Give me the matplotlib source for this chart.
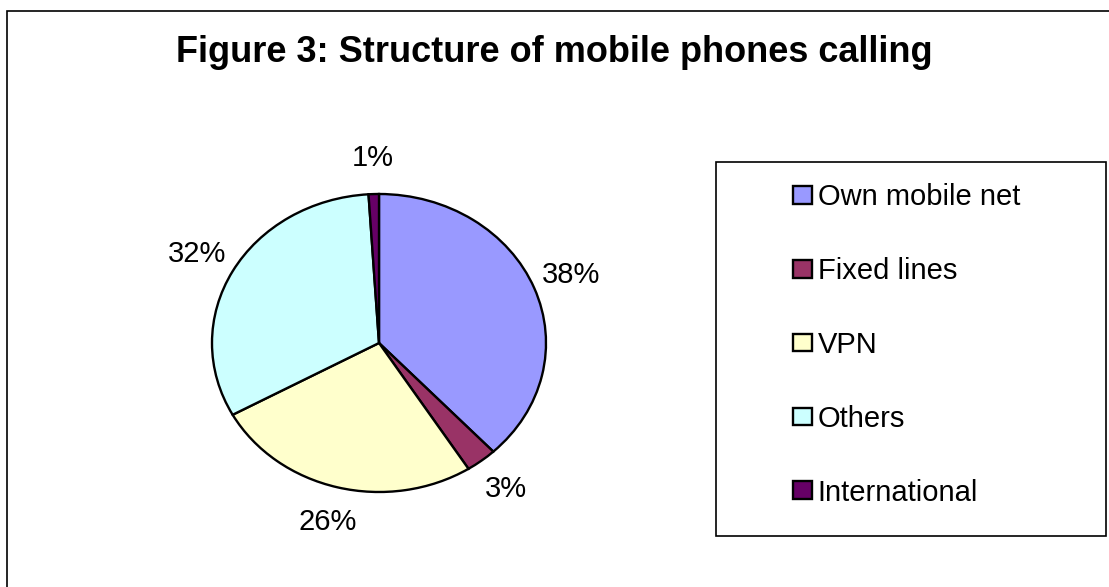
import matplotlib
matplotlib.use("Agg")
import matplotlib.pyplot as plt
from matplotlib.patches import Rectangle

plt.rcParams['font.family'] = ['Liberation Sans', 'DejaVu Sans']

labels = ['Own mobile net', 'Fixed lines', 'VPN', 'Others', 'International']
shares = [38, 3, 26, 32, 1]
colors = ['#9999FF', '#993366', '#FFFFCC', '#CCFFFF', '#660066']
title = 'Figure 3: Structure of mobile phones calling'

W, H = 1109, 587
fig = plt.figure(figsize=(W / 100, H / 100), dpi=100)

# outer chart frame (runs off the right and bottom of the picture)
fig.patches.append(Rectangle((7 / W, -0.05), 1.1, 1 - 11 / H + 0.05,
                             transform=fig.transFigure, fill=False,
                             edgecolor='black', linewidth=1.2))

fig.text(554 / W, 1 - 53 / H, title, ha='center', va='center',
         fontsize=26, fontweight='bold')

# pie is a bit stretched sideways in the original: rx 167 px, ry 149 px
cx, cy = 379, H - 343
rx, ry = 167, 149
a = 1.5
ax = fig.add_axes([(cx - a * rx) / W, (cy - a * ry) / H,
                   2 * a * rx / W, 2 * a * ry / H])
wedges, texts, autotexts = ax.pie(
    shares, colors=colors, startangle=90, counterclock=False,
    autopct='%1.0f%%', pctdistance=1.24,
    wedgeprops=dict(edgecolor='black', linewidth=1.7),
    textprops=dict(fontsize=21))
ax.set_aspect('auto')
ax.set_xlim(-a, a)
ax.set_ylim(-a, a)
ax.axis('off')

# legend box
fig.patches.append(Rectangle((716 / W, 1 - 536 / H), 390 / W, 374 / H,
                             transform=fig.transFigure, fill=False,
                             edgecolor='black', linewidth=1.2))
fig.legend(wedges, labels, loc='center left',
           bbox_to_anchor=(793 / W, 1 - 345 / H),
           frameon=False, fontsize=21, borderpad=0, borderaxespad=0,
           handlelength=0.65, handleheight=0.55, handletextpad=0.2,
           labelspacing=1.57)

fig.savefig('out.png', dpi=100)
